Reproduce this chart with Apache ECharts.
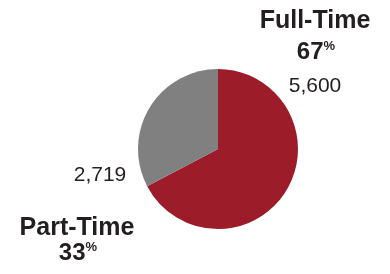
<!DOCTYPE html>
<html>
<head>
<meta charset="utf-8">
<style>
  html, body { margin: 0; padding: 0; background: #fff; }
  #chart { width: 390px; height: 274px; }
</style>
<script src="https://cdn.jsdelivr.net/npm/echarts@6/dist/echarts.min.js"></script>
</head>
<body>
<div id="chart"></div>
<script>
  // enrollment split
  const categories = ['Full-Time', 'Part-Time'];
  const counts = [5600, 2719];
  const colors = ['#9c1c2a', '#808080'];

  const total = counts.reduce((a, b) => a + b, 0);
  const pct = counts.map(v => Math.round(v / total * 100));
  const fmt = v => v.toLocaleString('en-US');

  const font = 'Liberation Sans, Arial, sans-serif';
  const ink = '#231f20';

  const nameText = (x, y, str) => ({
    type: 'text', x: x, y: y,
    style: { text: str, font: 'bold 25px ' + font, fill: ink, align: 'center', verticalAlign: 'middle' }
  });
  const pctText = (x, y, p) => ({
    type: 'text', x: x, y: y,
    style: {
      text: '{n|' + p + '}{s|%}', align: 'center', verticalAlign: 'middle', fill: ink,
      rich: {
        n: { fontSize: 24, fontWeight: 'bold', fontFamily: font, fill: ink },
        s: { fontSize: 13, fontWeight: 'bold', fontFamily: font, fill: ink, verticalAlign: 'top', lineHeight: 24 }
      }
    }
  });
  const valText = (x, y, v) => ({
    type: 'text', x: x, y: y,
    style: { text: fmt(v), font: '21px ' + font, fill: ink, align: 'center', verticalAlign: 'middle' }
  });

  const chart = echarts.init(document.getElementById('chart'));
  chart.setOption({
    animation: false,
    series: [{
      type: 'pie',
      center: [218, 149],
      radius: 80,
      startAngle: 90,
      clockwise: true,
      label: { show: false },
      labelLine: { show: false },
      silent: true,
      data: categories.map((c, i) => ({ name: c, value: counts[i], itemStyle: { color: colors[i] } }))
    }],
    graphic: [
      nameText(315, 21, categories[0]),
      pctText(316, 52, pct[0]),
      valText(315, 86, counts[0]),
      valText(100, 175, counts[1]),
      nameText(77, 228, categories[1]),
      pctText(78, 253, pct[1])
    ]
  });
</script>
</body>
</html>
